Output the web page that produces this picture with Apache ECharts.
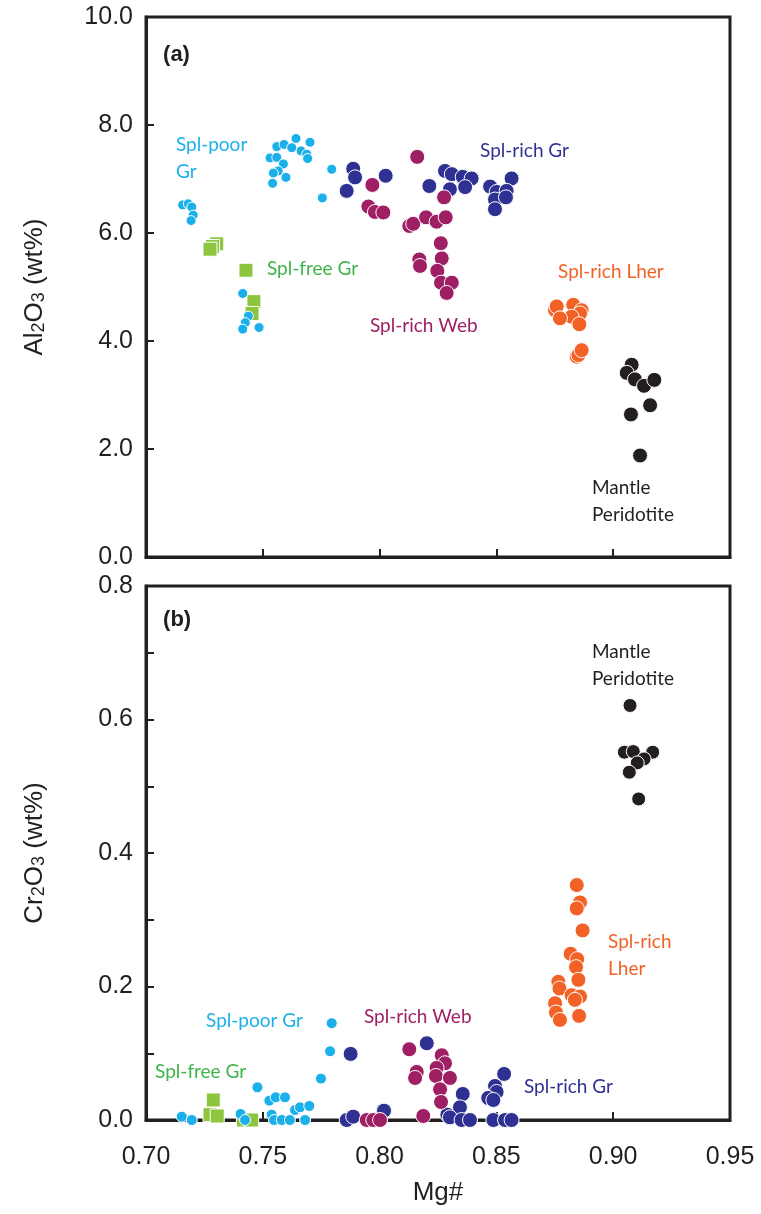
<!DOCTYPE html>
<html>
<head>
<meta charset="utf-8">
<title>Mg# vs Al2O3 / Cr2O3</title>
<script src="https://cdn.jsdelivr.net/npm/echarts@6/dist/echarts.min.js"></script>
<style>
	html, body { margin: 0; padding: 0; background: #fff; }
	#main { width: 761px; height: 1214px; }
</style>
</head>
<body>
<div id="main"></div>
<script>
// x 轴刻度
var xTicks = [0.70, 0.75, 0.80, 0.85, 0.90, 0.95];
var alTicks = [0, 2, 4, 6, 8, 10];
var crTicks = [0, 0.2, 0.4, 0.6, 0.8];

// (a) Mg# - Al2O3
var poorGrA = [[0.7560, 7.60], [0.7591, 7.64], [0.7642, 7.75], [0.7624, 7.58], [0.7702, 7.68], [0.7664, 7.52],
	[0.7688, 7.46], [0.7692, 7.38], [0.7531, 7.39], [0.7560, 7.40], [0.7588, 7.28], [0.7566, 7.15],
	[0.7545, 7.11], [0.7599, 7.03], [0.7542, 6.92], [0.7795, 7.18], [0.7755, 6.65], [0.7157, 6.52],
	[0.7181, 6.54], [0.7196, 6.48], [0.7202, 6.33], [0.7193, 6.23], [0.7414, 4.88], [0.7438, 4.46],
	[0.7425, 4.34], [0.7414, 4.22], [0.7484, 4.25]];
var freeGrA = [[0.7303, 5.80], [0.7285, 5.75], [0.7274, 5.70], [0.7428, 5.31], [0.7462, 4.73], [0.7454, 4.51]];
var richGrA = [[0.7887, 7.19], [0.7895, 7.03], [0.7859, 6.78], [0.8026, 7.06], [0.8280, 7.15], [0.8309, 7.09],
	[0.8356, 7.04], [0.8394, 7.01], [0.8213, 6.87], [0.8301, 6.81], [0.8366, 6.85], [0.8473, 6.86],
	[0.8565, 7.01], [0.8501, 6.76], [0.8544, 6.78], [0.8494, 6.62], [0.8541, 6.66], [0.8494, 6.44]];
var richWebA = [[0.7969, 6.89], [0.7952, 6.49], [0.7980, 6.39], [0.8016, 6.38], [0.8161, 7.41], [0.8276, 6.66],
	[0.8127, 6.13], [0.8144, 6.17], [0.8199, 6.29], [0.8244, 6.21], [0.8283, 6.29], [0.8262, 5.81],
	[0.8170, 5.51], [0.8173, 5.39], [0.8266, 5.53], [0.8247, 5.30], [0.8263, 5.08], [0.8309, 5.08],
	[0.8287, 4.89]];
var lherA = [[0.8751, 4.57], [0.8758, 4.64], [0.8829, 4.67], [0.8865, 4.57], [0.8858, 4.51], [0.8822, 4.45],
	[0.8772, 4.42], [0.8855, 4.31], [0.8844, 3.71], [0.8851, 3.74], [0.8865, 3.83]];
var mantleA = [[0.9079, 3.56], [0.9058, 3.41], [0.9093, 3.29], [0.9132, 3.17], [0.9176, 3.28], [0.9158, 2.81],
	[0.9076, 2.64], [0.9115, 1.88]];

// (b) Mg# - Cr2O3
var poorGrB = [[0.7795, 0.145], [0.7788, 0.103], [0.7749, 0.062], [0.7477, 0.049], [0.7528, 0.029], [0.7555, 0.034],
	[0.7595, 0.034], [0.7638, 0.015], [0.7659, 0.019], [0.7699, 0.021], [0.7153, 0.005], [0.7196, 0.000],
	[0.7405, 0.009], [0.7424, 0.000], [0.7538, 0.008], [0.7548, 0.000], [0.7581, 0.000], [0.7616, 0.000],
	[0.7681, 0.000]];
var freeGrB = [[0.7288, 0.030], [0.7274, 0.008], [0.7305, 0.006], [0.7417, 0.000], [0.7452, 0.000]];
var richGrB = [[0.7876, 0.099], [0.7859, 0.000], [0.7887, 0.005], [0.8016, 0.014], [0.8202, 0.115], [0.8019, 0.014],
	[0.8356, 0.039], [0.8344, 0.019], [0.8290, 0.008], [0.8301, 0.004], [0.8351, 0.000], [0.8387, 0.000],
	[0.8533, 0.069], [0.8494, 0.051], [0.8501, 0.042], [0.8465, 0.033], [0.8487, 0.030], [0.8487, 0.000],
	[0.8537, 0.000], [0.8565, 0.000]];
var richWebB = [[0.7945, 0.000], [0.7973, 0.000], [0.8002, 0.000], [0.8127, 0.106], [0.8266, 0.097], [0.8280, 0.085],
	[0.8159, 0.072], [0.8152, 0.063], [0.8244, 0.078], [0.8241, 0.066], [0.8301, 0.063], [0.8259, 0.046],
	[0.8263, 0.027], [0.8187, 0.006]];
var lherB = [[0.8844, 0.352], [0.8858, 0.326], [0.8844, 0.317], [0.8869, 0.284], [0.8818, 0.249], [0.8846, 0.241],
	[0.8841, 0.229], [0.8851, 0.210], [0.8765, 0.207], [0.8770, 0.197], [0.8822, 0.187], [0.8858, 0.185],
	[0.8836, 0.180], [0.8751, 0.175], [0.8755, 0.161], [0.8772, 0.150], [0.8854, 0.156]];
var mantleB = [[0.9072, 0.621], [0.9048, 0.551], [0.9086, 0.552], [0.9169, 0.551], [0.9132, 0.541], [0.9103, 0.535],
	[0.9069, 0.521], [0.9109, 0.481]];

// 图中文字标注 [Mg#, y(文字顶部), 文字, 颜色]
var notesA = [
	[0.7073, 9.55, '(a)', 'bold'],
	[0.7128, 7.89, 'Spl-poor\nGr', 'poor'],
	[0.7518, 5.58, 'Spl-free Gr', 'free'],
	[0.7959, 4.53, 'Spl-rich Web', 'web'],
	[0.8430, 7.77, 'Spl-rich Gr', 'gr'],
	[0.8764, 5.53, 'Spl-rich Lher', 'lher'],
	[0.8909, 1.53, 'Mantle\nPeridotite', 'mantle']
];
var notesB = [
	[0.7073, 0.770, '(b)', 'bold'],
	[0.8909, 0.722, 'Mantle\nPeridotite', 'mantle'],
	[0.8978, 0.287, 'Spl-rich\nLher', 'lher'],
	[0.7257, 0.169, 'Spl-poor Gr', 'poor'],
	[0.7933, 0.175, 'Spl-rich Web', 'web'],
	[0.7039, 0.092, 'Spl-free Gr', 'free'],
	[0.8618, 0.070, 'Spl-rich Gr', 'gr']
];

var colors = {
	poor: '#1cb0ea',
	free: '#8cc63f',
	gr: '#2e3192',
	web: '#9e1f63',
	lher: '#f26125',
	mantle: '#231f20',
	bold: '#231f20'
};
var textColors = {
	poor: '#1cb0ea',
	free: '#3fb44a',
	gr: '#2e3192',
	web: '#9e1f63',
	lher: '#f26125',
	mantle: '#231f20',
	bold: '#231f20'
};

function pts(name, data, key, idx, symbol, size) {
	return {
		name: name,
		type: 'scatter',
		xAxisIndex: idx,
		yAxisIndex: idx,
		data: data,
		symbol: symbol,
		symbolSize: size,
		itemStyle: {
			color: colors[key],
			borderColor: '#fff',
			borderWidth: 1,
			opacity: 1
		},
		silent: true
	};
}

function xAxisOf(idx, showLabel) {
	return {
		type: 'value',
		gridIndex: idx,
		min: 0.70,
		max: 0.95,
		interval: 0.05,
		name: showLabel ? 'Mg#' : '',
		nameLocation: 'middle',
		nameGap: 60,
		nameTextStyle: { fontFamily: 'Liberation Sans', fontSize: 26, color: '#231f20' },
		axisLine: { show: true, onZero: false, lineStyle: { color: '#231f20', width: 3 } },
		axisTick: { show: true, inside: true, length: 8, lineStyle: { color: '#231f20', width: 2 } },
		axisLabel: {
			show: showLabel,
			margin: 25,
			fontFamily: 'Liberation Sans',
			fontSize: 25,
			color: '#231f20',
			formatter: function(v) { return v.toFixed(2); }
		},
		splitLine: { show: false }
	};
}

function yName(el) {
	return '{n|' + el + '}{s|2}{n|O}{s|3}{n| (wt%)}';
}

function yAxisOf(idx, max, interval, minor, el) {
	return {
		type: 'value',
		gridIndex: idx,
		min: 0,
		max: max,
		interval: interval,
		name: yName(el),
		nameLocation: 'middle',
		nameGap: 98,
		nameTextStyle: {
			rich: {
				n: { fontFamily: 'Liberation Sans', fontSize: 26, color: '#231f20' },
				s: { fontFamily: 'Liberation Sans', fontSize: 18, color: '#231f20', padding: [9, 0, 0, 0] }
			}
		},
		axisLine: { show: true, onZero: false, lineStyle: { color: '#231f20', width: 3 } },
		axisTick: { show: true, inside: true, length: 8, lineStyle: { color: '#231f20', width: 2 } },
		minorTick: { show: minor, splitNumber: 2, length: 8, lineStyle: { color: '#231f20', width: 2 } },
		axisLabel: {
			margin: 13,
			fontFamily: 'Liberation Sans',
			fontSize: 25,
			color: '#231f20',
			formatter: function(v) { return v.toFixed(1); }
		},
		splitLine: { show: false }
	};
}

var chart = echarts.init(document.getElementById('main'), null, { renderer: 'canvas' });
var option = {
	backgroundColor: '#fff',
	animation: false,
	grid: [
		{ left: 146, right: 31, top: 17, height: 540, show: true, borderColor: '#231f20', borderWidth: 3, backgroundColor: 'transparent' },
		{ left: 146, right: 31, top: 586, height: 534, show: true, borderColor: '#231f20', borderWidth: 3, backgroundColor: 'transparent' }
	],
	xAxis: [xAxisOf(0, false), xAxisOf(1, true)],
	yAxis: [yAxisOf(0, 10, 2, false, 'Al'), yAxisOf(1, 0.8, 0.2, true, 'Cr')],
	series: [
		pts('Spl-free Gr', freeGrA, 'free', 0, 'rect', 14),
		pts('Spl-poor Gr', poorGrA, 'poor', 0, 'circle', 10),
		pts('Spl-rich Gr', richGrA, 'gr', 0, 'circle', 15),
		pts('Spl-rich Web', richWebA, 'web', 0, 'circle', 15),
		pts('Spl-rich Lher', lherA, 'lher', 0, 'circle', 15),
		pts('Mantle Peridotite', mantleA, 'mantle', 0, 'circle', 15),
		pts('Spl-free Gr', freeGrB, 'free', 1, 'rect', 14),
		pts('Spl-poor Gr', poorGrB, 'poor', 1, 'circle', 11),
		pts('Spl-rich Gr', richGrB, 'gr', 1, 'circle', 15),
		pts('Spl-rich Web', richWebB, 'web', 1, 'circle', 15),
		pts('Spl-rich Lher', lherB, 'lher', 1, 'circle', 15),
		pts('Mantle Peridotite', mantleB, 'mantle', 1, 'circle', 14)
	]
};
chart.setOption(option);

// 文字标注：按数据坐标换算成像素
function noteGraphics(notes, idx) {
	var list = [];
	for(var i = 0; i < notes.length; i++) {
		var n = notes[i];
		var p = chart.convertToPixel({ gridIndex: idx }, [n[0], n[1]]);
		var bold = n[3] == 'bold';
		list.push({
			type: 'text',
			x: p[0],
			y: p[1],
			silent: true,
			style: {
				text: n[2],
				fill: textColors[n[3]],
				fontFamily: bold ? 'Liberation Sans' : 'Lato',
				fontWeight: bold ? 'bold' : 'normal',
				fontSize: bold ? 22 : 19,
				lineHeight: 27,
				align: 'left',
				verticalAlign: 'top'
			}
		});
	}
	return list;
}
chart.setOption({ graphic: noteGraphics(notesA, 0).concat(noteGraphics(notesB, 1)) });
</script>
</body>
</html>
